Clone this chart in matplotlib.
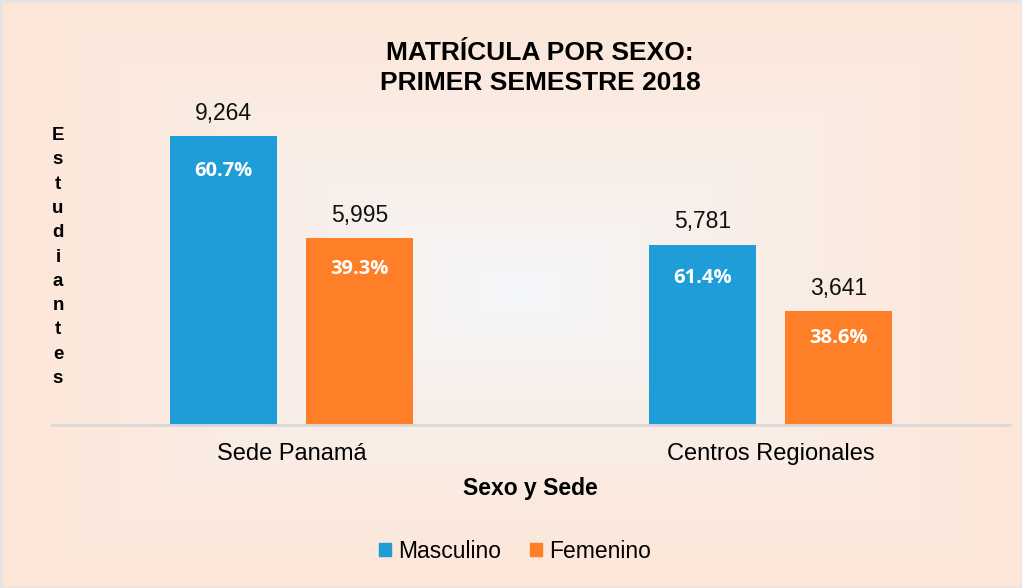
import matplotlib

matplotlib.use("Agg", force=True)
import matplotlib.pyplot as plt
import matplotlib.patches as mpatches
import numpy as np

sedes = ["Sede Panamá", "Centros Regionales"]
series = ["Masculino", "Femenino"]
masculino = [9264, 5781]
femenino = [5995, 3641]
pct_masculino = ["60.7%", "61.4%"]
pct_femenino = ["39.3%", "38.6%"]

BLUE = "#1f9dd8"
ORANGE = "#fe7f27"
EDGE_BG = np.array([253, 230, 216]) / 255
CENTER_BG = np.array([244, 248, 252]) / 255

plt.rcParams["font.family"] = ["Liberation Sans", "DejaVu Sans"]

W, H = 1022, 588
fig = plt.figure(figsize=(W / 100, H / 100), dpi=100)

# rectangular "from centre" gradient background
bg = fig.add_axes([0, 0, 1, 1], zorder=-10)
yy, xx = np.mgrid[0:H, 0:W]
t = np.maximum(np.abs(xx - 520) / 520, np.abs(yy - 290) / 300)
t = np.clip(t, 0, 1) ** 0.7
img = CENTER_BG[None, None, :] * (1 - t[..., None]) + EDGE_BG[None, None, :] * t[..., None]
bg.imshow(img, aspect="auto", extent=(0, W, H, 0), interpolation="bilinear")
bg.set_xlim(0, W)
bg.set_ylim(H, 0)
bg.axis("off")
bg.add_patch(mpatches.Rectangle((0.5, 0.5), W - 1, H - 1, fill=False, ec="#e4e4e4", lw=2))

ax = fig.add_axes([52 / W, 1 - 425 / H, 958 / W, 320 / H])
ax.set_facecolor("none")
x = np.arange(len(sedes))
off = 0.142
bw = 0.223
b1 = ax.bar(x - off, masculino, width=bw, color=BLUE, label=series[0], zorder=2)
b2 = ax.bar(x + off, femenino, width=bw, color=ORANGE, label=series[1], zorder=2)
ax.set_xlim(-0.5, 1.5)
ax.set_ylim(0, 320 / 0.0312)

for spine in ["top", "right", "left"]:
    ax.spines[spine].set_visible(False)
ax.spines["bottom"].set_color("#d9d9d9")
ax.spines["bottom"].set_linewidth(2)
ax.set_yticks([])
ax.set_xticks(x)
ax.set_xticklabels(sedes, fontsize=17)
ax.tick_params(axis="x", length=0, pad=13)

pct_drop = [[25, 24], [22, 19]]  # points below bar top, per series / sede
for k, (bars, vals, pcts) in enumerate([(b1, masculino, pct_masculino), (b2, femenino, pct_femenino)]):
    for i, (bar, v, p) in enumerate(zip(bars, vals, pcts)):
        cx = bar.get_x() + bar.get_width() / 2
        ax.annotate(f"{v:,}", (cx, v), xytext=(0, 16.5), textcoords="offset points",
                    ha="center", va="center", fontsize=16.5, color="#111111")
        ax.annotate(p, (cx, v), xytext=(0, -pct_drop[k][i]), textcoords="offset points",
                    ha="center", va="center", fontsize=14.5, color="white",
                    fontweight="bold", family=["Open Sans", "DejaVu Sans"])

fig.text(540 / W, 1 - 68 / H, "MATRÍCULA POR SEXO:\nPRIMER SEMESTRE 2018", ha="center", va="center",
         fontsize=19, fontweight="bold", linespacing=1.3)
fig.text(530 / W, 1 - 488 / H, "Sexo y Sede", ha="center", va="center", fontsize=16.5, fontweight="bold")
fig.text(58 / W, 1 - 257 / H, "\n".join("Estudiantes"), ha="center", va="center",
         fontsize=13.5, fontweight="bold", linespacing=1.56)

fig.legend(handles=[mpatches.Patch(color=BLUE, label=series[0]), mpatches.Patch(color=ORANGE, label=series[1])],
           loc="center", bbox_to_anchor=(515 / W, 1 - 551 / H), ncol=2, frameon=False, fontsize=16.5,
           handlelength=0.5, handleheight=0.5, handletextpad=0.3, columnspacing=1.3)

fig.savefig("out.png", dpi=100)
